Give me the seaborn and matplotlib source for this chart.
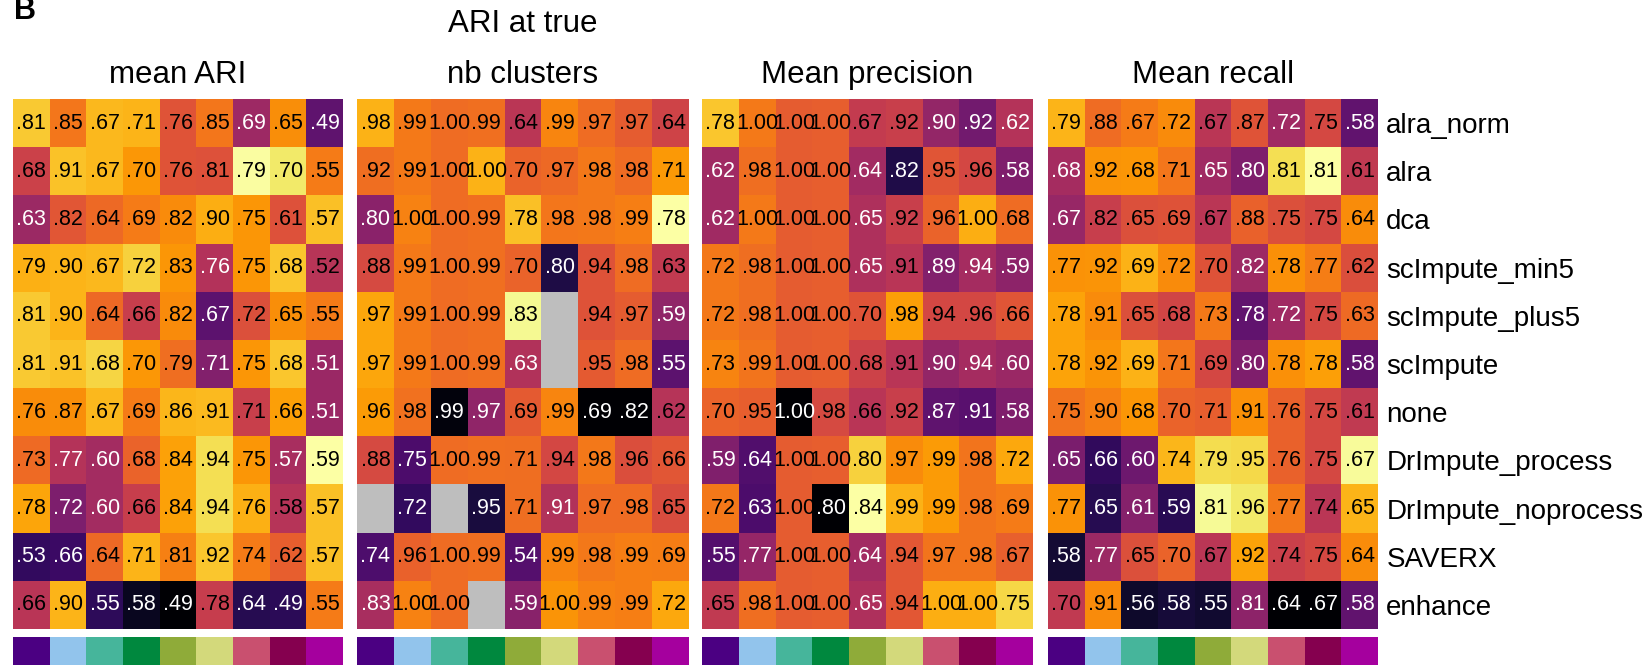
import numpy as np
import pandas as pd
import matplotlib
matplotlib.use("Agg")
import matplotlib.pyplot as plt
import seaborn as sns
from matplotlib.colors import ListedColormap

plt.rcParams["font.family"] = ["Liberation Sans", "DejaVu Sans"]

methods = ["alra_norm", "alra", "dca", "scImpute_min5", "scImpute_plus5",
           "scImpute", "none", "DrImpute_process", "DrImpute_noprocess",
           "SAVERX", "enhance"]

nan = np.nan

mean_ari = [
    [.81, .85, .67, .71, .76, .85, .69, .65, .49],
    [.68, .91, .67, .70, .76, .81, .79, .70, .55],
    [.63, .82, .64, .69, .82, .90, .75, .61, .57],
    [.79, .90, .67, .72, .83, .76, .75, .68, .52],
    [.81, .90, .64, .66, .82, .67, .72, .65, .55],
    [.81, .91, .68, .70, .79, .71, .75, .68, .51],
    [.76, .87, .67, .69, .86, .91, .71, .66, .51],
    [.73, .77, .60, .68, .84, .94, .75, .57, .59],
    [.78, .72, .60, .66, .84, .94, .76, .58, .57],
    [.53, .66, .64, .71, .81, .92, .74, .62, .57],
    [.66, .90, .55, .58, .49, .78, .64, .49, .55],
]

ari_true_k = [
    [.98, .99, 1.00, .99, .64, .99, .97, .97, .64],
    [.92, .99, 1.00, 1.00, .70, .97, .98, .98, .71],
    [.80, 1.00, 1.00, .99, .78, .98, .98, .99, .78],
    [.88, .99, 1.00, .99, .70, .80, .94, .98, .63],
    [.97, .99, 1.00, .99, .83, nan, .94, .97, .59],
    [.97, .99, 1.00, .99, .63, nan, .95, .98, .55],
    [.96, .98, .99, .97, .69, .99, .69, .82, .62],
    [.88, .75, 1.00, .99, .71, .94, .98, .96, .66],
    [nan, .72, nan, .95, .71, .91, .97, .98, .65],
    [.74, .96, 1.00, .99, .54, .99, .98, .99, .69],
    [.83, 1.00, 1.00, nan, .59, 1.00, .99, .99, .72],
]

mean_precision = [
    [.78, 1.00, 1.00, 1.00, .67, .92, .90, .92, .62],
    [.62, .98, 1.00, 1.00, .64, .82, .95, .96, .58],
    [.62, 1.00, 1.00, 1.00, .65, .92, .96, 1.00, .68],
    [.72, .98, 1.00, 1.00, .65, .91, .89, .94, .59],
    [.72, .98, 1.00, 1.00, .70, .98, .94, .96, .66],
    [.73, .99, 1.00, 1.00, .68, .91, .90, .94, .60],
    [.70, .95, .996, .98, .66, .92, .87, .91, .58],
    [.59, .64, 1.00, 1.00, .80, .97, .99, .98, .72],
    [.72, .63, 1.00, .80, .84, .99, .99, .98, .69],
    [.55, .77, 1.00, 1.00, .64, .94, .97, .98, .67],
    [.65, .98, 1.00, 1.00, .65, .94, 1.00, 1.00, .75],
]

mean_recall = [
    [.79, .88, .67, .72, .67, .87, .72, .75, .58],
    [.68, .92, .68, .71, .65, .80, .81, .81, .61],
    [.67, .82, .65, .69, .67, .88, .75, .75, .64],
    [.77, .92, .69, .72, .70, .82, .78, .77, .62],
    [.78, .91, .65, .68, .73, .78, .72, .75, .63],
    [.78, .92, .69, .71, .69, .80, .78, .78, .58],
    [.75, .90, .68, .70, .71, .91, .76, .75, .61],
    [.65, .66, .60, .74, .79, .95, .76, .75, .67],
    [.77, .65, .61, .59, .81, .96, .77, .74, .65],
    [.58, .77, .65, .70, .67, .92, .74, .75, .64],
    [.70, .91, .56, .58, .55, .81, .64, .67, .58],
]

panel_titles = ["mean ARI", "ARI at true\nnb clusters", "Mean precision", "Mean recall"]

dataset_colors = ["#4b0082", "#92c4ec", "#46b59b", "#00883e", "#8fab39",
                  "#d3d97b", "#c9506f", "#85004f", "#a5009e"]


def short(v):
    if np.isnan(v):
        return ""
    s = f"{v:.2f}"
    return s[1:] if s.startswith("0") else s


W, H = 1646, 665
fig = plt.figure(figsize=(W / 100, H / 100), dpi=100)

lefts = [13, 357, 702, 1048]
widths = [330, 332, 331, 330]
top, bottom = 99, 629
strip_top, strip_bottom = 637, 665

panels = [mean_ari, ari_true_k, mean_precision, mean_recall]

for k, (vals, title) in enumerate(zip(panels, panel_titles)):
    df = pd.DataFrame(vals, index=methods)
    # colour encodes the column-wise z-score
    z = (df - df.mean()) / df.std()
    labels = np.array([[short(v) for v in row] for row in df.values])

    ax = fig.add_axes([lefts[k] / W, 1 - bottom / H, widths[k] / W, (bottom - top) / H])
    ax.set_facecolor("#bebebe")
    sns.heatmap(z, ax=ax, cmap="inferno", cbar=False, annot=labels, fmt="",
                annot_kws={"size": 15.5},
                xticklabels=False, yticklabels=(methods if k == 3 else False))

    vmin, vmax = np.nanmin(z.values), np.nanmax(z.values)
    for t in ax.texts:
        x, y = t.get_position()
        c = z.values[int(y), int(x)]
        n = (c - vmin) / (vmax - vmin)
        t.set_color("white" if n < 0.482 else "black")

    if k == 3:
        ax.yaxis.tick_right()
        ax.tick_params(axis="y", length=0, pad=6, labelsize=20, labelrotation=0)
    ax.set_xlabel("")
    ax.set_ylabel("")

    ax.annotate(title, xy=(0.5, 1), xycoords="axes fraction",
                xytext=(0, 6.8), textcoords="offset points",
                ha="center", va="bottom", fontsize=22.5, linespacing=1.9)

    sax = fig.add_axes([lefts[k] / W, 1 - strip_bottom / H, widths[k] / W,
                        (strip_bottom - strip_top) / H])
    sns.heatmap(np.arange(len(dataset_colors))[None, :], ax=sax,
                cmap=ListedColormap(dataset_colors), cbar=False,
                xticklabels=False, yticklabels=False)

fig.text(14 / W, 1 - 19 / H, "B", fontsize=22, fontweight="bold", va="baseline", ha="left")

fig.savefig("out.png", dpi=100)
